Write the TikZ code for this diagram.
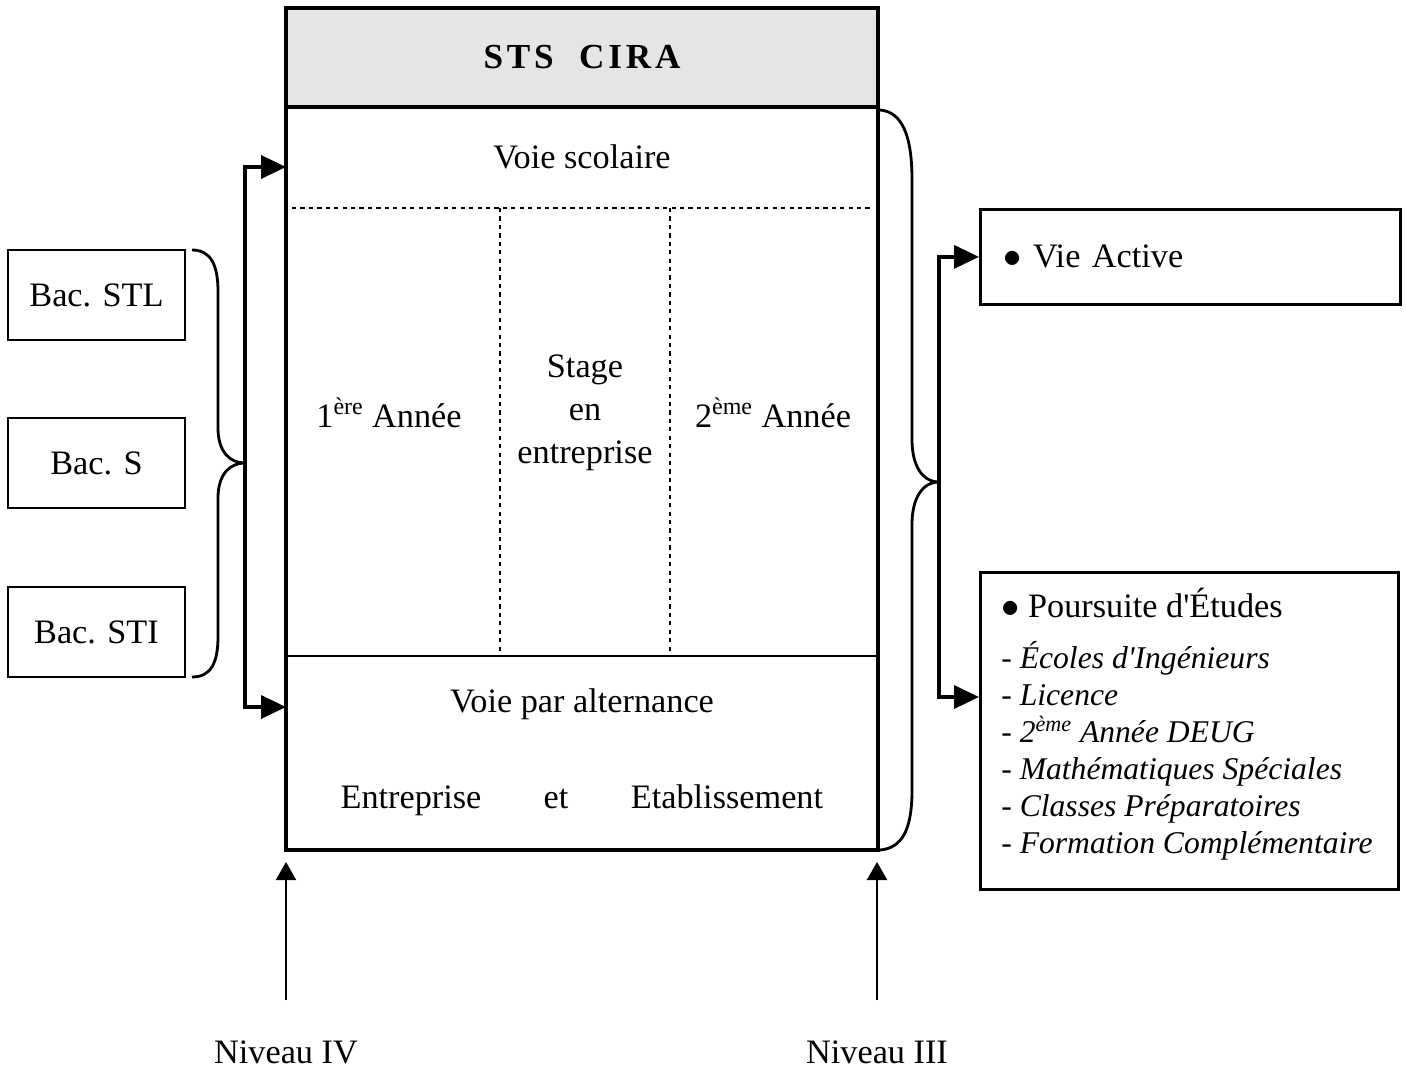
\documentclass[tikz,border=0pt]{standalone}
\usepackage{fontspec}
\setmainfont{Liberation Serif}[Ligatures=TeXOff]
\usetikzlibrary{arrows.meta}

\newcommand{\puce}{{\fontsize{21}{21}\selectfont$\bullet$}}

\tikzset{
  texte/.style={font=\fontsize{19.5}{24.5}\selectfont, inner sep=0pt},
  bac/.style={draw, line width=1.2pt, minimum width=3.54cm, minimum height=1.8cm, texte},
  sortie/.style={draw, line width=1.6pt, anchor=north west},
  fleche/.style={line width=2pt, -{Triangle[length=0.5cm,width=0.46cm]}},
  montee/.style={line width=1.2pt, -{Triangle[length=0.36cm,width=0.4cm]}},
  accolade/.style={line width=1.6pt},
  pointille/.style={line width=0.9pt, dash pattern=on 2.4pt off 2.4pt}
}

\begin{document}
\begin{tikzpicture}[x=0.02cm, y=-0.02cm]
\useasboundingbox (0,0) rectangle (1406,1068);

% cadre STS
\fill[black!10] (286,8) rectangle (878,107);
\draw[pointille] (292,208) -- (872,208);
\draw[pointille] (500,208) -- (500,656);
\draw[pointille] (670,208) -- (670,656);
\draw[line width=1.2pt] (286,656) -- (878,656);
\draw[line width=2.3pt] (286,107) -- (878,107);
\draw[line width=2.3pt] (286,8) rectangle (878,850);

\node[texte, font=\fontsize{20}{24}\selectfont\bfseries\addfontfeature{LetterSpace=11}] (titre) at (582,57) {STS\ \ CIRA};
\node[texte] (scolaire) at (582,157) {Voie scolaire};
\node[texte] (annee1) at (389,413) {1\textsuperscript{ère} Année};
\node[texte, align=center] (stage) at (585,413) {Stage\\en\\entreprise};
\node[texte] (annee2) at (773,413) {2\textsuperscript{ème} Année};
\node[texte] (alternance) at (582,704) {Voie par alternance};
\node[texte, anchor=base] (entreprise) at (411,808) {Entreprise};
\node[texte, anchor=base] (et) at (556,808) {et};
\node[texte, anchor=base] (etablissement) at (727,808) {Etablissement};

% bacs
\node[bac] (stl) at (96.5,295) {Bac. STL};
\node[bac] (bacs) at (96.5,463) {Bac. S};
\node[bac] (sti) at (96.5,632) {Bac. STI};

% accolade gauche
\coordinate (pointeG) at (245,463);
\draw[accolade] (192,250) .. controls (211,250) and (218,265) .. (218,292) -- (218,428)
  .. controls (218,452) and (230,463) .. (pointeG)
  .. controls (230,463) and (218,474) .. (218,498) -- (218,636)
  .. controls (218,663) and (211,677) .. (192,677);
\coordinate (entreeA) at (286,167);
\coordinate (entreeB) at (286,707);
\draw[fleche] (pointeG) |- (entreeA);
\draw[fleche] (pointeG) |- (entreeB);

% accolade droite
\coordinate (pointeD) at (939,482);
\draw[accolade] (880,110) .. controls (902,112) and (912,135) .. (912,180) -- (912,440)
  .. controls (912,465) and (922,482) .. (pointeD)
  .. controls (922,482) and (912,499) .. (912,524) -- (912,790)
  .. controls (912,830) and (902,848) .. (880,850);

% sorties
\node[sortie, minimum width=8.4cm, minimum height=1.9cm, texte, inner xsep=0.46cm,
  text width=7.48cm, align=left] (vie) at (979,208) {\puce\ Vie Active};
\node[sortie, minimum width=8.36cm, minimum height=6.34cm] (poursuite) at (979,571) {};
\node[anchor=north west, inner sep=0pt, align=left, font=\fontsize{18}{21}\selectfont] (etudes) at (1001,588)
  {{\fontsize{19.5}{21}\selectfont \puce\ Poursuite d'Études}\\[8pt]
   \textit{- Écoles d'Ingénieurs}\\
   \textit{- Licence}\\
   \textit{- 2\textsuperscript{ème} Année DEUG}\\
   \textit{- Mathématiques Spéciales}\\
   \textit{- Classes Préparatoires}\\
   \textit{- Formation Complémentaire}};
\coordinate (entreeC) at (979,697);
\draw[fleche] (pointeD) |- (vie.west);
\draw[fleche] (pointeD) |- (entreeC);

% niveaux
\node[texte] (niveau4) at (286,1052) {Niveau IV};
\node[texte] (niveau3) at (877,1052) {Niveau III};
\coordinate (pied4) at (286,1000);
\coordinate (pied3) at (877,1000);
\coordinate (haut4) at (286,862);
\coordinate (haut3) at (877,862);
\draw[montee] (pied4) -- (haut4);
\draw[montee] (pied3) -- (haut3);
\end{tikzpicture}
\end{document}
